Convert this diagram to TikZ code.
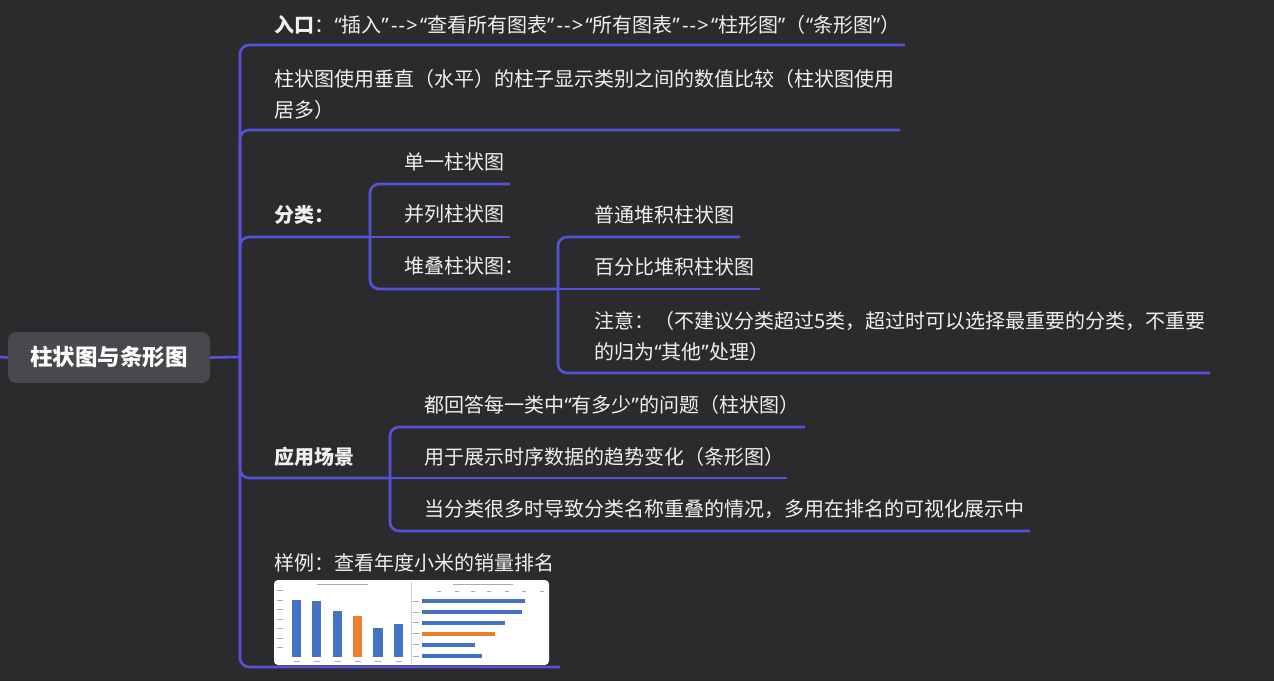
\documentclass[tikz,border=0pt]{standalone}
\usepackage{fontspec}
\setmainfont{Noto Sans CJK SC}
\newfontfamily\latq{Noto Sans}
\newcommand{\qlft}{\makebox[7.5pt][r]{\latq “}}
\newcommand{\qrgt}{\makebox[7.5pt][l]{\latq ”}}
\newcommand{\arrw}{\makebox[30.5pt][c]{\latq -\kern1.2pt-\kern1.2pt>}}
\definecolor{bg}{RGB}{43,43,46}
\definecolor{br}{RGB}{86,82,214}
\definecolor{rootfill}{RGB}{72,72,77}
\definecolor{txt}{RGB}{240,240,240}
\definecolor{xlblue}{RGB}{68,114,196}
\definecolor{xlorange}{RGB}{237,125,49}
\definecolor{tinygray}{RGB}{170,170,170}
\begin{document}
\begin{tikzpicture}[x=1pt,y=-1pt,
  conn/.style={draw=br, line width=2.6pt, rounded corners=9pt},
  lbl/.style={anchor=west, inner sep=0pt, text=txt, font=\fontsize{20}{31}\selectfont, align=left},
  rootbox/.style={fill=rootfill, rounded corners=8pt, minimum width=202pt, minimum height=51pt, inner sep=0pt, text=white, font=\fontsize{22.5}{26}\selectfont\bfseries},
  imgbox/.style={fill=white, rounded corners=4pt, minimum width=275pt, minimum height=85pt, inner sep=0pt},
  tiny/.style={draw=tinygray, line width=0.8pt}
]
\fill[bg] (0,0) rectangle (1274,681);
\useasboundingbox (0,0) rectangle (1274,681);

% root
\node[rootbox] (root) at (109,357.5) {柱状图与条形图};
\coordinate (lin) at (0,357);
\coordinate (j0) at (240,357);
\draw[conn] (lin) -- (root.west);
\draw[conn] (root.east) -- (j0);

% branch 1
\node[lbl] (b1) at (274,25) {\textbf{入口}：\qlft 插入\qrgt\arrw\qlft 查看所有图表\qrgt\arrw\qlft 所有图表\qrgt\arrw\qlft 柱形图\qrgt（\qlft 条形图\qrgt）};
\coordinate (u1) at (905,45);
\draw[conn] (j0) |- (u1);

% branch 2
\node[lbl] (b2) at (274,94.5) {柱状图使用垂直（水平）的柱子显示类别之间的数值比较（柱状图使用\\居多）};
\coordinate (u2) at (900,130);
\draw[conn] (j0) |- (u2);

% branch 3
\node[lbl] (b3) at (274,215) {\textbf{分类：}};
\coordinate (s0) at (370,237);
\draw[conn] (j0) |- (s0);
\node[lbl] (c1) at (404,162) {单一柱状图};
\node[lbl] (c2) at (404,214) {并列柱状图};
\node[lbl] (c3) at (404,266) {堆叠柱状图：};
\coordinate (u31) at (510,184);
\coordinate (u32) at (510,237);
\coordinate (s1) at (558,289);
\draw[conn] (s0) |- (u31);
\draw[conn] (s0) -- (u32);
\draw[conn] (s0) |- (s1);
\node[lbl] (d1) at (594,215) {普通堆积柱状图};
\node[lbl] (d2) at (594,267) {百分比堆积柱状图};
\node[lbl] (d3) at (594,336) {注意：（不建议分类超过5类，超过时可以选择最重要的分类，不重要\\的归为\qlft 其他\qrgt 处理）};
\coordinate (u41) at (740,237);
\coordinate (u42) at (760,289);
\coordinate (u43) at (1210,373);
\draw[conn] (s1) |- (u41);
\draw[conn] (s1) -- (u42);
\draw[conn] (s1) |- (u43);

% branch 4
\node[lbl] (b4) at (274,457) {\textbf{应用场景}};
\coordinate (s2) at (390,478);
\draw[conn] (j0) |- (s2);
\node[lbl] (e1) at (424,405) {都回答每一类中\qlft 有多少\qrgt 的问题（柱状图）};
\node[lbl] (e2) at (424,457) {用于展示时序数据的趋势变化（条形图）};
\node[lbl] (e3) at (424,509) {当分类很多时导致分类名称重叠的情况，多用在排名的可视化展示中};
\coordinate (u51) at (805,427);
\coordinate (u52) at (787,478);
\coordinate (u53) at (1030,531);
\draw[conn] (s2) |- (u51);
\draw[conn] (s2) -- (u52);
\draw[conn] (s2) |- (u53);

% branch 5
\node[lbl] (b5) at (274,563) {样例：查看年度小米的销量排名};
\coordinate (u6) at (560,667);
\draw[conn] (j0) |- (u6);

% sample image
\node[imgbox] (img) at (411.5,622.5) {};
\draw[tinygray!60, line width=0.6pt] (411,582) -- (411,664);
% left chart tiny text marks
\draw[tiny] (317,584) -- (368,584);
\foreach \yy in {590.7,600,609.3,619,628.3,638,647.3} {\draw[tiny] (277,\yy) -- (283,\yy);}
\foreach \xx in {296.5,316.8,337.5,357.5,378,398.5} {\draw[tiny] (\xx-3,661) -- (\xx+3,661);}
% left chart bars
\fill[xlblue] (292,600) rectangle (301,656.7);
\fill[xlblue] (312.3,601) rectangle (321.3,656.7);
\fill[xlblue] (333,611) rectangle (342,656.7);
\fill[xlorange] (353,616) rectangle (362,656.7);
\fill[xlblue] (373.3,628) rectangle (382.7,656.7);
\fill[xlblue] (394,624) rectangle (403,656.7);
% right chart tiny text marks
\draw[tiny] (453,584) -- (513,584);
\foreach \xx in {438.7,457,473,489,507,524,541.7} {\draw[tiny] (\xx-2,591) -- (\xx+2,591);}
\foreach \yy in {601,612,622.7,633.7,644.7,656} {\draw[tiny] (413,\yy) -- (419,\yy);}
% right chart bars
\fill[xlblue] (422,599) rectangle (525,603);
\fill[xlblue] (422,610) rectangle (522,614);
\fill[xlblue] (422,620.7) rectangle (505,624.7);
\fill[xlorange] (422,631.7) rectangle (495,635.7);
\fill[xlblue] (422,642.7) rectangle (475,646.7);
\fill[xlblue] (422,654) rectangle (482,658);
\end{tikzpicture}
\end{document}
